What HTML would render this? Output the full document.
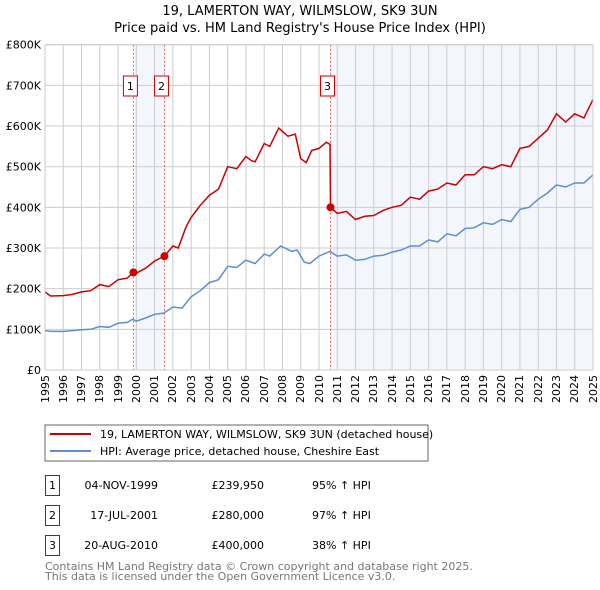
<!DOCTYPE html>
<html><head><meta charset="utf-8"><style>
body{margin:0;background:#fff;position:relative;width:600px;height:590px;overflow:hidden;}
svg{display:block;font-family:"DejaVu Sans","Liberation Sans",sans-serif;}
.xl{position:absolute;top:375px;width:13px;height:32px;font:11px/13px "DejaVu Sans","Liberation Sans",sans-serif;writing-mode:vertical-rl;transform:rotate(180deg);text-align:right;color:#000;white-space:nowrap;}
</style></head><body>
<svg id="c" width="600" height="590" viewBox="0 0 600 590">
<text x="300" y="15" text-anchor="middle" font-size="13">19, LAMERTON WAY, WILMSLOW, SK9 3UN</text>
<text x="300" y="32" text-anchor="middle" font-size="13">Price paid vs. HM Land Registry's House Price Index (HPI)</text>
<g id="plot"></g>
<rect x="45" y="425" width="383" height="36" fill="#fff" stroke="#666"/>
<line x1="50" y1="434" x2="91" y2="434" stroke="#cc0000" stroke-width="2"/>
<text x="100" y="438" font-size="11">19, LAMERTON WAY, WILMSLOW, SK9 3UN (detached house)</text>
<line x1="50" y1="451" x2="91" y2="451" stroke="#5b8fd1" stroke-width="2"/>
<text x="100" y="455" font-size="11">HPI: Average price, detached house, Cheshire East</text>
<g font-size="11">
<rect x="45.5" y="475.5" width="14" height="20" fill="none" stroke="#cc0000"/><text x="52.5" y="489" text-anchor="middle">1</text>
<text x="158" y="489" text-anchor="end">04-NOV-1999</text><text x="264" y="489" text-anchor="end">£239,950</text><text x="312" y="489">95% ↑ HPI</text>
<rect x="45.5" y="505.5" width="14" height="20" fill="none" stroke="#cc0000"/><text x="52.5" y="519" text-anchor="middle">2</text>
<text x="158" y="519" text-anchor="end">17-JUL-2001</text><text x="264" y="519" text-anchor="end">£280,000</text><text x="312" y="519">97% ↑ HPI</text>
<rect x="45.5" y="535.5" width="14" height="20" fill="none" stroke="#cc0000"/><text x="52.5" y="549" text-anchor="middle">3</text>
<text x="158" y="549" text-anchor="end">20-AUG-2010</text><text x="264" y="549" text-anchor="end">£400,000</text><text x="312" y="549">38% ↑ HPI</text>
</g>
<text x="45" y="570" font-size="11" fill="#777">Contains HM Land Registry data © Crown copyright and database right 2025.</text>
<text x="45" y="580" font-size="11" fill="#777">This data is licensed under the Open Government Licence v3.0.</text>
</svg>
<div id="xlabels"></div>
<script>
const yTicks=[0,100,200,300,400,500,600,700,800];
const yTickLabels=["£0","£100K","£200K","£300K","£400K","£500K","£600K","£700K","£800K"];
const years=[1995,1996,1997,1998,1999,2000,2001,2002,2003,2004,2005,2006,2007,2008,2009,2010,2011,2012,2013,2014,2015,2016,2017,2018,2019,2020,2021,2022,2023,2024,2025];
const saleDates=[1999.84,2001.54,2010.63];
const saleValues=[239.95,280,400];
const saleLabels=["1","2","3"];
const hpiDates=[1995,1995.3,1996,1996.5,1997,1997.5,1998,1998.5,1999,1999.5,1999.8,2000,2000.5,2001,2001.5,2002,2002.5,2003,2003.5,2004,2004.5,2005,2005.5,2006,2006.5,2007,2007.3,2007.9,2008.5,2008.8,2009.2,2009.5,2010,2010.6,2011,2011.5,2012,2012.5,2013,2013.5,2014,2014.5,2015,2015.5,2016,2016.5,2017,2017.5,2018,2018.5,2019,2019.5,2020,2020.5,2021,2021.5,2022,2022.5,2023,2023.5,2024,2024.5,2025];
const hpiValues=[97,95,95,97,99,100,107,105,115,117,125,120,128,137,140,155,152,180,195,215,222,255,252,270,262,285,280,305,292,295,265,262,280,292,280,283,270,272,280,282,290,295,305,305,320,315,335,330,348,350,362,358,370,365,395,400,420,435,455,450,460,460,480];
const propDates=[1995,1995.3,1996,1996.5,1997,1997.5,1998,1998.5,1999,1999.5,1999.84,2000,2000.5,2001,2001.54,2002,2002.3,2002.7,2003,2003.5,2004,2004.5,2005,2005.5,2006,2006.3,2006.5,2007,2007.3,2007.8,2008.3,2008.7,2009,2009.3,2009.6,2010,2010.4,2010.6,2010.63,2011,2011.5,2012,2012.5,2013,2013.5,2014,2014.5,2015,2015.5,2016,2016.5,2017,2017.5,2018,2018.5,2019,2019.5,2020,2020.5,2021,2021.5,2022,2022.5,2023,2023.5,2024,2024.5,2025];
const propValues=[192,182,183,186,192,195,210,205,222,226,240,238,250,268,280,305,300,350,375,405,430,445,500,495,525,515,512,557,550,595,575,580,520,510,540,545,560,555,400,385,390,370,378,380,392,400,405,425,420,440,445,460,455,480,480,500,495,505,500,545,550,570,590,630,610,630,620,665];
const L=45,R=593,T=44.7,B=370;
const X=d=>L+(d-1995)/30*(R-L);
const Y=v=>B-v/800*(B-T);
const g=document.getElementById('plot');
const xl=document.getElementById('xlabels');
const NS='http://www.w3.org/2000/svg';
function mk(t,a,p){const e=document.createElementNS(NS,t);for(const k in a)e.setAttribute(k,a[k]);(p||g).appendChild(e);return e;}
let e;
e=mk('rect',{x:X(saleDates[0]),y:T,width:X(saleDates[1])-X(saleDates[0]),height:B-T,fill:'#eef3fc',opacity:0.7});


e=mk('rect',{x:X(saleDates[2]),y:T,width:R-X(saleDates[2]),height:B-T,fill:'#eef3fc',opacity:0.7});


years.forEach(yr=>{
 e=mk('line',{x1:X(yr),x2:X(yr),y1:T,y2:B,stroke:'#ccc','stroke-width':1});
 
 
 const d=document.createElement('div');
 d.className='xl';
 d.style.left=(X(yr)-6.5).toFixed(1)+'px';
 d.textContent=yr;
 
 
 xl.appendChild(d);
});
yTicks.forEach((v,i)=>{
 e=mk('line',{x1:L,x2:R,y1:Y(v),y2:Y(v),stroke:'#ccc','stroke-width':1});
 
 
 e=mk('text',{x:L-4,y:Y(v)+4,'font-size':11,'text-anchor':'end'});
 e.textContent=yTickLabels[i];
 
 
});
saleDates.forEach((d,i)=>{
 e=mk('line',{x1:X(d),x2:X(d),y1:T,y2:B,stroke:'#f06060','stroke-width':1,'stroke-dasharray':'2,2'});
 
 
 e=mk('rect',{x:X(d)-10,y:76,width:14,height:20,fill:'#fff',stroke:'#cc0000'});
 
 
 e=mk('text',{x:X(d)-3,y:90,'font-size':11,'text-anchor':'middle'});
 e.textContent=saleLabels[i];
 
 
});
const pts=(ds,vs)=>ds.map((d,i)=>X(d).toFixed(1)+','+Y(vs[i]).toFixed(1)).join(' ');
e=mk('polyline',{points:pts(hpiDates,hpiValues),fill:'none',stroke:'#5b8fd1','stroke-width':1.5});


e=mk('polyline',{points:pts(propDates,propValues),fill:'none',stroke:'#cc0000','stroke-width':1.5});


saleDates.forEach((d,i)=>{
 e=mk('circle',{cx:X(d),cy:Y(saleValues[i]),r:4,fill:'#cc0000'});
 
 
});
e=mk('rect',{x:L,y:T,width:R-L,height:B-T,fill:'none',stroke:'#ccc'});


</script>
</body></html>
